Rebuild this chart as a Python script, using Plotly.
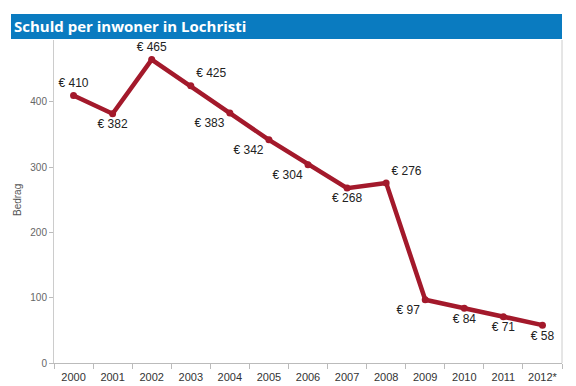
import plotly.graph_objects as go

years = ["2000", "2001", "2002", "2003", "2004", "2005", "2006", "2007", "2008", "2009", "2010", "2011", "2012*"]
values = [410, 382, 465, 425, 383, 342, 304, 268, 276, 97, 84, 71, 58]
label_pos = ["top center", "bottom center", "top center", "top right", "bottom left", "bottom left",
             "bottom left", "bottom center", "top right", "bottom left", "bottom center", "bottom center", "bottom center"]
title_text = "Schuld per inwoner in Lochristi"
y_title = "Bedrag"

fig = go.Figure()
fig.add_trace(go.Scatter(
    x=years, y=values, mode="lines+markers+text",
    line=dict(color="#a3192b", width=4.5),
    marker=dict(color="#a3192b", size=7),
    text=["€ %d" % v for v in values],
    textposition=label_pos,
    textfont=dict(family="Liberation Sans, Arial", size=12, color="#222"),
    cliponaxis=False,
    hoverinfo="x+y",
))

W, H = 576, 386
ml, mr, mt, mb = 54, 14, 40, 23
pw = W - ml - mr
ph = H - mt - mb

fig.add_shape(type="rect", xref="paper", yref="paper",
              x0=(11 - ml) / pw, x1=1.0, y0=1 + 1 / ph, y1=1 + 26 / ph,
              fillcolor="#0a7bc0", line=dict(width=0), layer="below")
fig.add_annotation(xref="paper", yref="paper", x=(12 - ml) / pw, y=1 + 13.5 / ph,
                   xanchor="left", yanchor="middle", showarrow=False,
                   text="<b>%s</b>" % title_text,
                   font=dict(family="Open Sans", size=15, color="white"))
fig.add_annotation(xref="paper", yref="paper", x=(18 - ml) / pw, y=(363 - 200) / ph,
                   xanchor="center", yanchor="middle", showarrow=False, textangle=-90,
                   text=y_title, font=dict(family="Liberation Sans, Arial", size=10, color="#555"))
# right border line
fig.add_shape(type="line", xref="paper", yref="paper", x0=1, x1=1, y0=0, y1=1,
              line=dict(color="#cccccc", width=1))

fig.update_layout(
    width=W, height=H,
    margin=dict(l=ml, r=mr, t=mt, b=mb, autoexpand=False),
    paper_bgcolor="white", plot_bgcolor="white",
    showlegend=False,
    xaxis=dict(type="category", showgrid=False, showline=True, linecolor="#bbbbbb",
               ticks="outside", tickson="boundaries", ticklen=5, tickcolor="#bbbbbb",
               ticklabelstandoff=4,
               tickfont=dict(family="Liberation Sans, Arial", size=11, color="#333"),
               range=[-0.5, 12.5], fixedrange=True, automargin=False),
    yaxis=dict(range=[0, 495], tickvals=[0, 100, 200, 300, 400], showgrid=False,
               zeroline=False, showline=True, linecolor="#cccccc",
               ticks="outside", ticklen=4, tickcolor="#bbbbbb", automargin=False,
               tickfont=dict(family="Liberation Sans, Arial", size=10, color="#666")),
)

fig.write_html("out.html", config={"displayModeBar": False},
               post_script="document.body.style.margin='0';")
